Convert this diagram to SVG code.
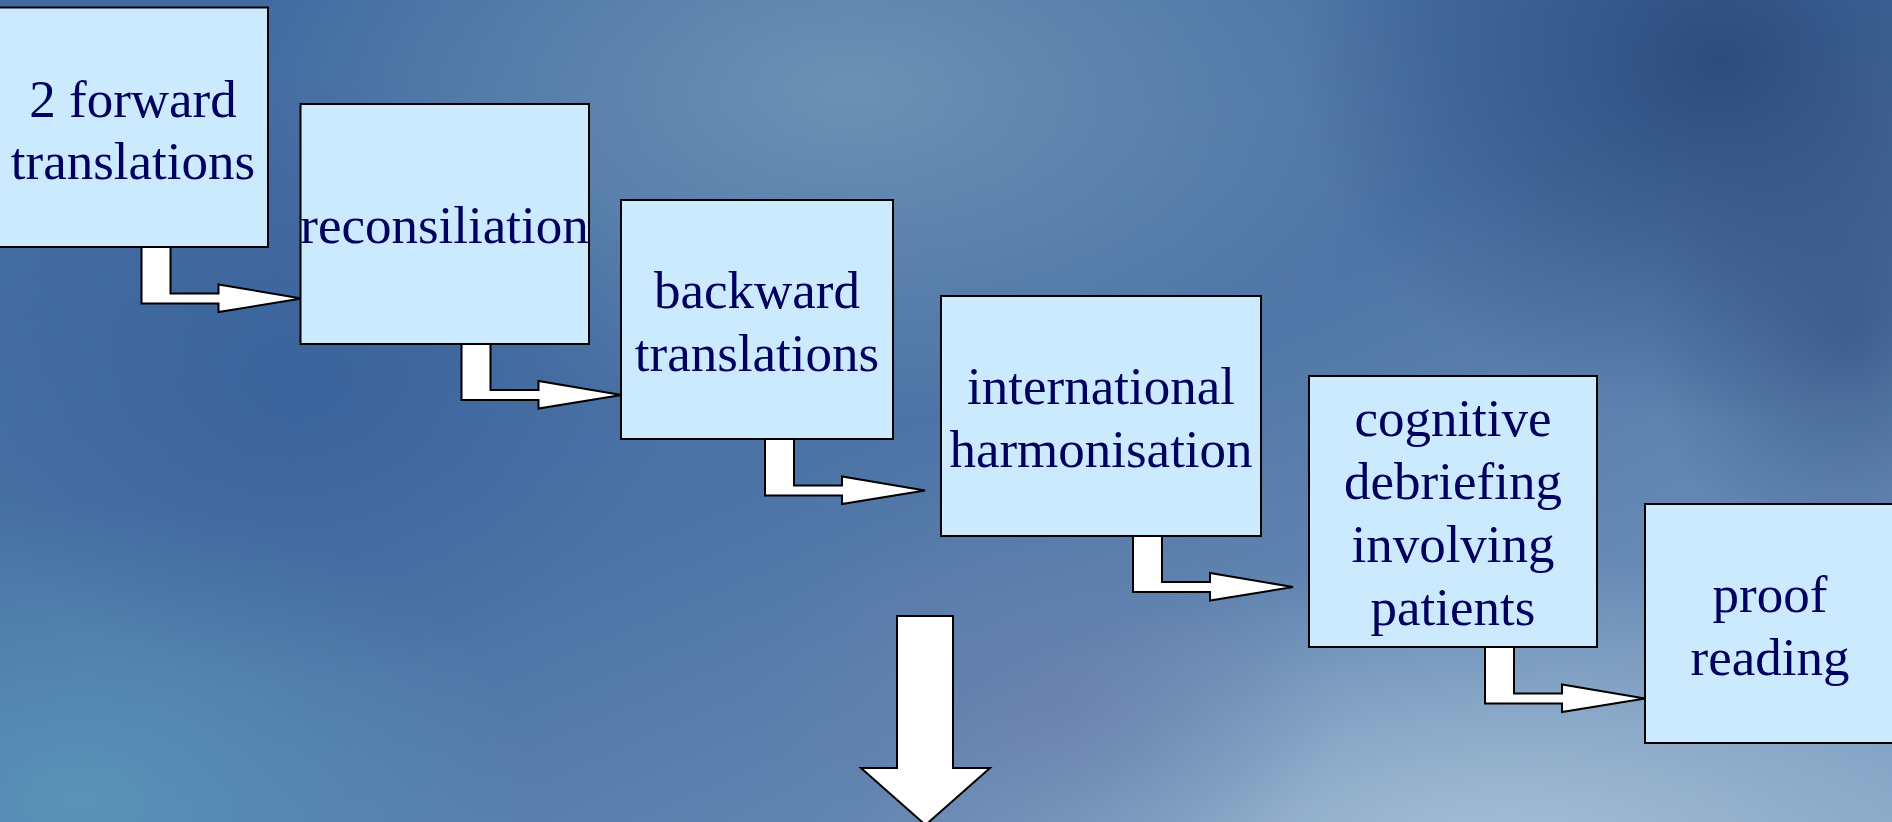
<svg xmlns="http://www.w3.org/2000/svg" width="1892" height="822" viewBox="0 0 1892 822">
<style>
.box{fill:#cbeafd;stroke:#000;stroke-width:2}
.lbl{font-family:"Liberation Serif","Times New Roman",serif;font-size:53px;fill:#00005f;text-anchor:middle}
.arr{fill:#fff;stroke:#000;stroke-width:2;stroke-linejoin:miter}
</style>
<defs>
<linearGradient id="bg" x1="0" y1="0" x2="1" y2="1">
<stop offset="0" stop-color="#3f6aa0"/>
<stop offset="0.5" stop-color="#4d74a6"/>
<stop offset="1" stop-color="#7b9cc0"/>
</linearGradient>
<radialGradient id="g1"><stop offset="0" stop-color="#6f93b5" stop-opacity="0.95"/><stop offset="1" stop-color="#6f93b5" stop-opacity="0"/></radialGradient>
<radialGradient id="g2"><stop offset="0" stop-color="#2b4a7c" stop-opacity="0.95"/><stop offset="1" stop-color="#2b4a7c" stop-opacity="0"/></radialGradient>
<radialGradient id="g3"><stop offset="0" stop-color="#a9c3d8" stop-opacity="0.95"/><stop offset="1" stop-color="#a9c3d8" stop-opacity="0"/></radialGradient>
<radialGradient id="g4"><stop offset="0" stop-color="#5a96ba" stop-opacity="0.9"/><stop offset="1" stop-color="#5a96ba" stop-opacity="0"/></radialGradient>
<radialGradient id="g5"><stop offset="0" stop-color="#38609a" stop-opacity="0.8"/><stop offset="1" stop-color="#38609a" stop-opacity="0"/></radialGradient>
<radialGradient id="g6"><stop offset="0" stop-color="#6a7fab" stop-opacity="0.7"/><stop offset="1" stop-color="#6a7fab" stop-opacity="0"/></radialGradient>
<path id="elbow" class="arr" d="M-160,-52 H-131 V-5 H-83 V-14 L0,0 L-83,13.5 V5 H-160 Z"/>
</defs>
<g id="background">
<rect x="0" y="0" width="1892" height="822" fill="url(#bg)"/>
<ellipse cx="850" cy="90" rx="600" ry="330" fill="url(#g1)"/>
<ellipse cx="1720" cy="60" rx="420" ry="360" fill="url(#g2)"/>
<ellipse cx="1500" cy="860" rx="650" ry="300" fill="url(#g3)"/>
<ellipse cx="80" cy="800" rx="450" ry="300" fill="url(#g4)"/>
<ellipse cx="300" cy="380" rx="380" ry="300" fill="url(#g5)"/>
<ellipse cx="1050" cy="700" rx="300" ry="200" fill="url(#g6)"/>
<ellipse cx="1850" cy="330" rx="200" ry="260" fill="url(#g2)" opacity="0.6"/>
</g>
<g id="connectors">
<use href="#elbow" transform="translate(301.5,298.5)"/>
<use href="#elbow" transform="translate(621.5,395)"/>
<use href="#elbow" transform="translate(925,490.5)"/>
<use href="#elbow" transform="translate(1293,587)"/>
<use href="#elbow" transform="translate(1645,698.5)"/>
<polygon class="arr" points="897,616 953,616 953,768 990,768 925.5,825 861,768 897,768"/>
</g>
<g id="n1"><rect class="box" x="-3" y="7.5" width="271" height="239.5"/>
<text class="lbl" x="133" y="117">2 forward</text><text class="lbl" x="133" y="179">translations</text></g>
<g id="n2"><rect class="box" x="300.5" y="104" width="288.5" height="240"/>
<text class="lbl" x="444.5" y="242.5">reconsiliation</text></g>
<g id="n3"><rect class="box" x="621" y="200" width="272" height="239"/>
<text class="lbl" x="757" y="308">backward</text><text class="lbl" x="757" y="371">translations</text></g>
<g id="n4"><rect class="box" x="941" y="296" width="320" height="240"/>
<text class="lbl" x="1101" y="404">international</text><text class="lbl" x="1101" y="467">harmonisation</text></g>
<g id="n5"><rect class="box" x="1309" y="376" width="288" height="271"/>
<text class="lbl" x="1453" y="436">cognitive</text><text class="lbl" x="1453" y="499">debriefing</text><text class="lbl" x="1453" y="562">involving</text><text class="lbl" x="1453" y="625">patients</text></g>
<g id="n6"><rect class="box" x="1645" y="504" width="252" height="239"/>
<text class="lbl" x="1770" y="612">proof</text><text class="lbl" x="1770" y="675">reading</text></g>
</svg>
